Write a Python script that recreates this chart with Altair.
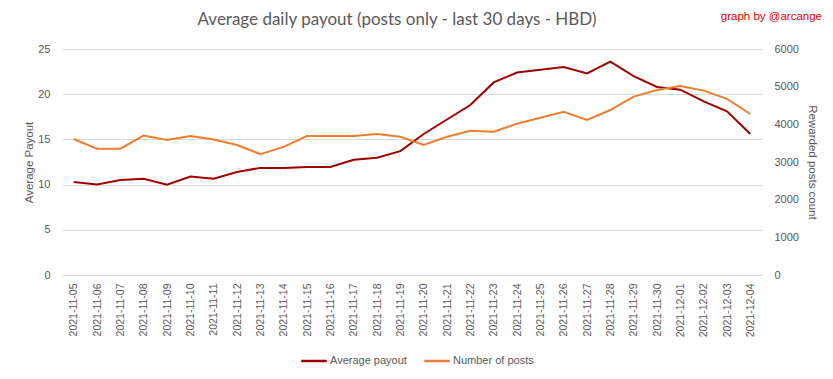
import altair as alt
import pandas as pd

dates = ["2021-11-05", "2021-11-06", "2021-11-07", "2021-11-08", "2021-11-09", "2021-11-10",
         "2021-11-11", "2021-11-12", "2021-11-13", "2021-11-14", "2021-11-15", "2021-11-16",
         "2021-11-17", "2021-11-18", "2021-11-19", "2021-11-20", "2021-11-21", "2021-11-22",
         "2021-11-23", "2021-11-24", "2021-11-25", "2021-11-26", "2021-11-27", "2021-11-28",
         "2021-11-29", "2021-11-30", "2021-12-01", "2021-12-02", "2021-12-03", "2021-12-04"]
avg_payout = [10.3, 10.0, 10.5, 10.65, 10.0, 10.9, 10.65, 11.4, 11.85, 11.85, 11.95, 11.95,
              12.75, 12.98, 13.7, 15.6, 17.2, 18.8, 21.3, 22.4, 22.7, 23.0, 22.3, 23.6,
              22.0, 20.8, 20.5, 19.2, 18.1, 15.6]
num_posts = [3610, 3355, 3355, 3700, 3585, 3690, 3595, 3450, 3210, 3400, 3690, 3690,
             3690, 3745, 3670, 3450, 3670, 3830, 3805, 4015, 4175, 4335, 4115, 4380,
             4735, 4910, 5020, 4895, 4675, 4275]
title_text = ["Average daily payout (posts only - last 30 days - HBD)"]
credit_text = ["graph by @arcange"]

df = pd.DataFrame({"date": dates, "payout": avg_payout, "posts": num_posts})

FONT = "Liberation Sans"
GRAY = "#595959"
GRID = "#D9D9D9"

color_scale = alt.Scale(domain=["Average payout", "Number of posts"],
                        range=["#9E0000", "#ED7D31"])

x_enc = alt.X("date:O", title=None, sort=None,
              axis=alt.Axis(labelAngle=-90, labelFont=FONT, labelFontSize=10.5,
                            labelColor=GRAY, ticks=False, domain=False, labelPadding=8))

base = alt.Chart(df)

payout_line = base.transform_calculate(series='"Average payout"').mark_line(strokeWidth=2).encode(
    x=x_enc,
    y=alt.Y("payout:Q", title="Average Payout",
            scale=alt.Scale(domain=[0, 25]),
            axis=alt.Axis(values=[0, 5, 10, 15, 20, 25], orient="left", ticks=False,
                          domain=False, gridColor=GRID, labelFont=FONT, labelFontSize=11,
                          labelColor=GRAY, titleFont=FONT, titleFontSize=11.5,
                          titleFontWeight="normal", titleColor=GRAY, labelPadding=12,
                          titlePadding=3)),
    color=alt.Color("series:N", scale=color_scale,
                    legend=alt.Legend(title=None, orient="none", direction="horizontal",
                                      legendX=238, legendY=298, symbolType="stroke",
                                      symbolStrokeWidth=2.5, symbolSize=650,
                                      labelFont=FONT, labelFontSize=11, labelColor=GRAY,
                                      labelOffset=2, columnPadding=12)),
)

posts_line = base.transform_calculate(series='"Number of posts"').mark_line(strokeWidth=2).encode(
    x=x_enc,
    y=alt.Y("posts:Q", title="Rewarded posts count",
            scale=alt.Scale(domain=[0, 6000]),
            axis=alt.Axis(values=[0, 1000, 2000, 3000, 4000, 5000, 6000], orient="right",
                          format="d", ticks=False, domain=False, grid=False, labelFont=FONT,
                          labelFontSize=11, labelColor=GRAY, titleFont=FONT,
                          titleFontSize=11.5, titleFontWeight="normal", titleColor=GRAY,
                          labelPadding=12, titlePadding=8)),
    color=alt.Color("series:N", scale=color_scale),
)

title = alt.Chart(pd.DataFrame({"t": title_text})).mark_text(
    align="center", baseline="middle", font="Lato", fontSize=17, color=GRAY
).encode(text="t:N", x=alt.value(335), y=alt.value(-29))

credit = alt.Chart(pd.DataFrame({"t": credit_text})).mark_text(
    align="right", baseline="middle", font=FONT, fontSize=11.5, color="#E00000"
).encode(text="t:N", x=alt.value(760), y=alt.value(-32))

chart = alt.layer(payout_line, posts_line, title, credit).resolve_scale(
    y="independent", color="shared"
).properties(
    width=700, height=226,
    autosize=alt.AutoSizeParams(type="none"),
    padding={"left": 54, "top": 41, "right": 60, "bottom": 98},
    background="white",
).configure_view(stroke=None)

chart.save("out.html", embed_options={"renderer": "svg", "actions": False})
